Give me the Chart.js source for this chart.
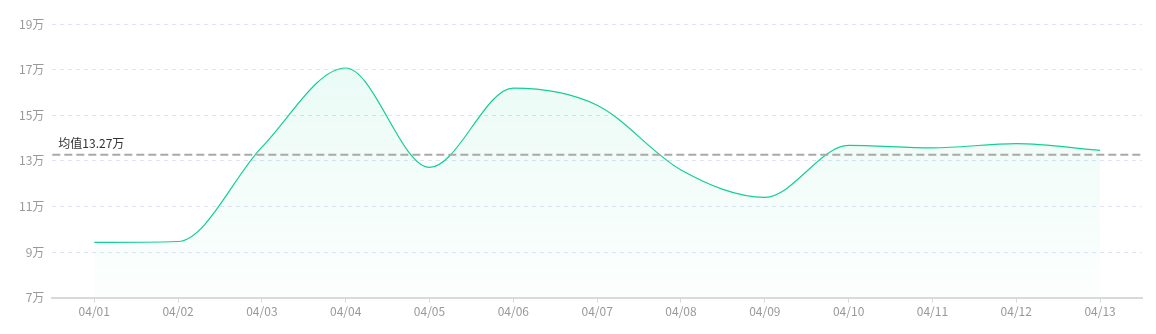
<!DOCTYPE html>
<html>
<head>
<meta charset="utf-8">
<script src="https://cdn.jsdelivr.net/npm/chart.js@4/dist/chart.umd.min.js"></script>
<style>
  html, body { margin: 0; padding: 0; background: #fff; }
  #wrap { width: 1156px; height: 334px; }
</style>
</head>
<body>
<div id="wrap"><canvas id="chart"></canvas></div>
<script>
const dates = ["04/01", "04/02", "04/03", "04/04", "04/05", "04/06", "04/07",
    "04/08", "04/09", "04/10", "04/11", "04/12", "04/13"];
const values = [94200, 94600, 136000, 170700, 127100, 161900, 154400,
    126000, 114000, 136800, 135700, 137500, 134600];
const meanValue = 132700;
const meanLabel = "均值13.27万";

const fontFamily = '"Noto Sans CJK SC", "Noto Sans", sans-serif';

// dashed average line across the whole plot area
const meanLine = {
    id: 'meanLine',
    afterDatasetsDraw(chart) {
        const ctx = chart.ctx;
        const area = chart.chartArea;
        const y = chart.scales.y.getPixelForValue(meanValue);
        ctx.save();
        ctx.strokeStyle = '#a9a9a9';
        ctx.lineWidth = 2;
        ctx.setLineDash([8, 4]);
        ctx.beginPath();
        ctx.moveTo(area.left, y);
        ctx.lineTo(area.right, y);
        ctx.stroke();
        ctx.setLineDash([]);
        ctx.fillStyle = '#333';
        ctx.font = '12px ' + fontFamily;
        ctx.textBaseline = 'bottom';
        ctx.fillText(meanLabel, area.left + 6, y - 5);
        ctx.restore();
    }
};

var ctx = document.getElementById('chart').getContext('2d');
var chart = new Chart(ctx, {
    type: 'line',
    data: {
        labels: dates,
        datasets: [{
            data: values,
            borderColor: '#14cf95',
            borderWidth: 1.2,
            pointRadius: 0,
            cubicInterpolationMode: 'monotone',
            fill: 'start',
            backgroundColor: function(context) {
                const area = context.chart.chartArea;
                if (!area) return 'rgba(20,207,149,0.08)';
                const g = context.chart.ctx.createLinearGradient(0, area.top, 0, area.bottom);
                g.addColorStop(0, 'rgba(20,207,149,0.10)');
                g.addColorStop(1, 'rgba(20,207,149,0.01)');
                return g;
            }
        }]
    },
    options: {
        responsive: true,
        maintainAspectRatio: false,
        animation: false,
        layout: { padding: { top: 24, right: 14, bottom: 13, left: 11 } },
        plugins: {
            legend: { display: false },
            tooltip: { enabled: false }
        },
        scales: {
            x: {
                offset: true,
                grid: {
                    drawOnChartArea: false,
                    drawTicks: true,
                    tickLength: 5,
                    color: '#d9d9d9'
                },
                border: { color: '#d9d9d9', width: 2 },
                ticks: {
                    color: '#999',
                    font: { size: 12, family: fontFamily },
                    padding: 2,
                    maxRotation: 0
                }
            },
            y: {
                min: 70000,
                max: 190000,
                border: { display: false, dash: [4, 4] },
                grid: {
                    drawTicks: false,
                    color: '#dfe4f0'
                },
                ticks: {
                    stepSize: 20000,
                    color: '#999',
                    padding: 8,
                    font: { size: 12, family: fontFamily },
                    callback: v => (v / 10000) + '万'
                }
            }
        }
    },
    plugins: [meanLine]
});
</script>
</body>
</html>
